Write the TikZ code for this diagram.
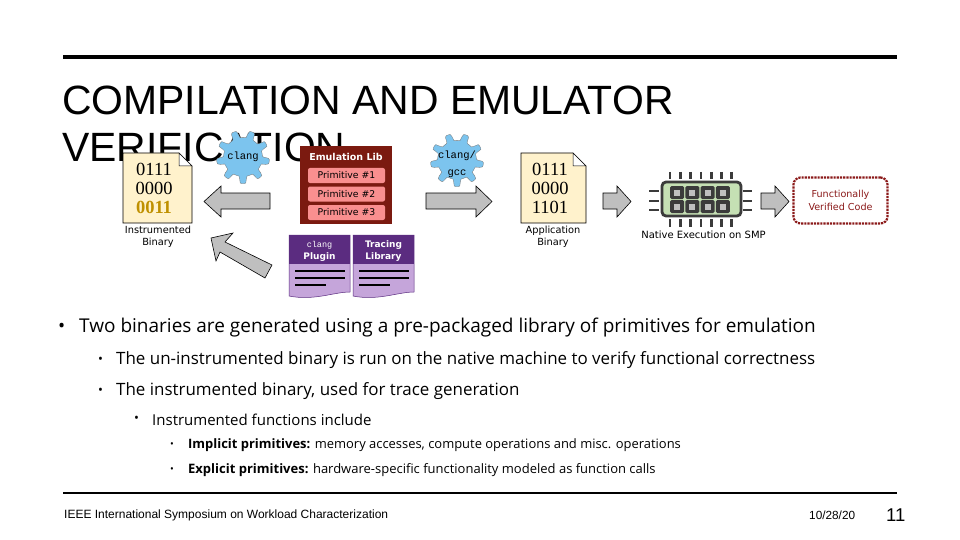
\documentclass[tikz,border=0pt]{standalone}
\usepackage{fontspec}
\setmainfont{Open Sans}
\newfontfamily\titlef{Liberation Sans}
\newfontfamily\codef{Liberation Serif}
\newfontfamily\monof{Liberation Mono}
\newfontfamily\smallf{DejaVu Sans}
\definecolor{arrowgrey}{HTML}{BFBFBF}
\definecolor{docfill}{HTML}{FFF2CC}
\definecolor{gold}{HTML}{BF9000}
\definecolor{gearblue}{HTML}{7CC4EE}
\definecolor{libred}{HTML}{7B1A10}
\definecolor{pill}{HTML}{F98F8F}
\definecolor{purpd}{HTML}{5B2C80}
\definecolor{purpl}{HTML}{C5A5DA}
\definecolor{chipg}{HTML}{C5E0B4}
\definecolor{chipd}{HTML}{3B3B3B}
\definecolor{boxred}{HTML}{8B1A1A}
\tikzset{
  blockarrow/.style={draw=black,line width=.6pt,fill=arrowgrey},
  docicon/.style={draw=black,line width=.6pt,fill=docfill},
  code/.style={font=\codef\fontsize{18.5}{19}\selectfont,anchor=center,inner sep=0pt},
  caption/.style={font=\smallf\fontsize{9.8}{12}\selectfont,align=center,inner sep=0pt},
  gearlabel/.style={font=\monof\fontsize{10.5}{12}\selectfont,inner sep=0pt},
  pillbox/.style={fill=pill,rounded corners=2pt,minimum width=77pt,minimum height=15pt,inner sep=0pt,font=\smallf\fontsize{9.3}{11}\selectfont},
  libhead/.style={font=\smallf\bfseries\fontsize{9.5}{11}\selectfont,text=white,inner sep=0pt},
  puphead/.style={font=\smallf\bfseries\fontsize{9}{12}\selectfont,text=white,inner sep=0pt,align=center},
  bullet/.style={anchor=west,inner sep=0pt},
  chipline/.style={line width=2.8pt,draw=chipd},
}
\newcommand{\harrow}[3]{\draw[blockarrow] (#1,193)--(#2,193)--(#2,186)--(#3,201.5)--(#2,217)--(#2,209)--(#1,209)--cycle;}
\newcommand{\geardraw}[1]{%
  \begin{scope}[shift={#1}]
  \fill[gearblue,draw=black!55,line width=.3pt]
   plot[smooth cycle,tension=.15,samples at={0,3,...,357},variable=\a]
     ({(23+3.6*tanh(4*(sin(9*\a)-.25)))*cos(\a)},{(23+3.6*tanh(4*(sin(9*\a)-.25)))*sin(\a)});
  \end{scope}}
\newcommand{\puppage}[1]{%
  \begin{scope}[xshift=#1]
  \fill[purpl,draw=purpd,line width=.5pt] (0,235)--(61,235)--(61,292) .. controls (45,292) and (25,301) .. (0,296)--cycle;
  \fill[purpd] (0,235) rectangle (61,264);
  \draw[line width=1.6pt,black] (6,271)--(56,271) (6,278)--(56,278) (6,285)--(37,285);
  \end{scope}}
\begin{document}
\begin{tikzpicture}[x=1pt,y=-1pt]
\useasboundingbox (0,0) rectangle (960,540);
\fill[white] (0,0) rectangle (960,540);
\draw[line width=4.5pt] (63,57)--(897,57);
\node[anchor=north west,inner sep=0pt,align=left,font=\titlef\fontsize{40.9}{47.5}\selectfont] (title) at (62,85.5) {COMPILATION AND EMULATOR\\VERIFICATION};

% instrumented binary
\draw[docicon] (123,153)--(179,153)--(192,166)--(192,223)--(123,223)--cycle;
\draw[line width=.5pt,fill=white] (179,153)--(179,166)--(192,166)--cycle;
\node[code] (i1) at (154,169) {0111};
\node[code] (i2) at (154,188) {0000};
\node[code,text=gold,font=\codef\bfseries\fontsize{18.5}{19}\selectfont] (i3) at (154,207) {0011};
\node[caption] (icap) at (158,237) {Instrumented\\Binary};

% gears
\geardraw{(243,157)}
\node[gearlabel] (g1) at (243,157) {clang};
\geardraw{(457,160)}
\node[gearlabel,align=center,font=\monof\fontsize{10.5}{17}\selectfont] (g2) at (457,164) {clang/\\gcc};

% arrows
\harrow{270}{221}{204}
\draw[blockarrow] (225,242)--(272,265)--(265,278)--(220,252)--(216,261)--(211,238)--(233,233)--cycle;
\harrow{426}{476}{492}
\harrow{603}{617}{631}
\harrow{761}{775}{789}

% emulation lib
\fill[libred] (300,146) rectangle (392,224);
\node[libhead] (lh) at (346,156.5) {Emulation Lib};
\node[pillbox] (p1) at (346.5,175.5) {Primitive \#1};
\node[pillbox] (p2) at (346.5,194) {Primitive \#2};
\node[pillbox] (p3) at (346.5,212.5) {Primitive \#3};

% plugin docs
\puppage{289pt}
\puppage{353pt}
\node[puphead] (h1) at (319.5,251.5) {\monof\mdseries\fontsize{8.5}{12}\selectfont clang\\\smallf\bfseries\fontsize{9}{12}\selectfont Plugin};
\node[puphead] (h2) at (383.5,251.5) {Tracing\\Library};

% application binary
\draw[docicon] (521,153)--(573,153)--(586,166)--(586,223)--(521,223)--cycle;
\draw[line width=.5pt,fill=white] (573,153)--(573,166)--(586,166)--cycle;
\node[code] (a1) at (550,169) {0111};
\node[code] (a2) at (550,188) {0000};
\node[code] (a3) at (550,207) {1101};
\node[caption] (acap) at (553,237) {Application\\Binary};

% chip
\foreach \k in {0,...,6} {
  \draw[chipline] ({670+10.3*\k},172)--({670+10.3*\k},179);
  \draw[chipline] ({670+10.3*\k},219)--({670+10.3*\k},227);
}
\foreach \yy in {191,201,210} {
  \draw[chipline] (649,\yy)--(659,\yy);
  \draw[chipline] (743,\yy)--(752,\yy);
}
\draw[chipd,line width=2.8pt,fill=chipg,rounded corners=4pt] (662,182) rectangle (741,216);
\foreach \k in {0,1,2,3} \foreach \yy in {186,200} {
  \fill[chipd,rounded corners=1.5pt] ({670+15.3*\k},\yy) rectangle +(14,13);
  \fill[black!25] ({674+15.3*\k},{\yy+3.5}) rectangle +(6,6);
}
\node[caption,anchor=center,font=\smallf\fontsize{10}{12}\selectfont] (ncap) at (703.5,235) {Native Execution on SMP};

% verified code
\node[draw=boxred,line width=2.2pt,densely dotted,rounded corners=7pt,minimum width=94pt,minimum height=46pt,inner sep=0pt,align=center,text=boxred,font=\smallf\fontsize{9.6}{13}\selectfont] (vc) at (840.5,200.5) {Functionally\\Verified Code};

% body text
\node[bullet,font=\fontsize{19}{22}\selectfont] (b0) at (58,327.5) {\textbullet};
\node[bullet,font=\fontsize{19}{22}\selectfont] (t0) at (79,327.5) {Two binaries are generated using a pre-packaged library of primitives for emulation};
\node[bullet,font=\fontsize{13}{16}\selectfont] (b1) at (98,360) {\textbullet};
\node[bullet,font=\fontsize{16.95}{20}\selectfont] (t1) at (116,360) {The un-instrumented binary is run on the native machine to verify functional correctness};
\node[bullet,font=\fontsize{13}{16}\selectfont] (b2) at (98,391) {\textbullet};
\node[bullet,font=\fontsize{16.95}{20}\selectfont] (t2) at (116,391) {The instrumented binary, used for trace generation};
\node[bullet,font=\fontsize{13}{16}\selectfont] (b3) at (134,419.5) {\textbullet};
\node[bullet,font=\fontsize{15}{18}\selectfont] (t3) at (152,419.5) {Instrumented functions include};
\node[bullet,font=\fontsize{10}{14}\selectfont] (b4) at (170,445.5) {\textbullet};
\node[bullet,font=\fontsize{12.95}{16}\selectfont] (t4) at (188,445.5) {\textbf{Implicit primitives:} memory accesses, compute operations and misc. operations};
\node[bullet,font=\fontsize{10}{14}\selectfont] (b5) at (170,470.5) {\textbullet};
\node[bullet,font=\fontsize{13}{16}\selectfont] (t5) at (188,470.5) {\textbf{Explicit primitives:} hardware-specific functionality modeled as function calls};

% footer
\draw[line width=1.5pt] (63,493)--(897,493);
\node[bullet,font=\titlef\fontsize{12}{14}\selectfont] (f1) at (64,515) {IEEE International Symposium on Workload Characterization};
\node[bullet,font=\titlef\fontsize{11.8}{14}\selectfont] (f2) at (809,515) {10/28/20};
\node[bullet,font=\titlef\fontsize{18.5}{22}\selectfont] (f3) at (886,515) {11};
\end{tikzpicture}
\end{document}
